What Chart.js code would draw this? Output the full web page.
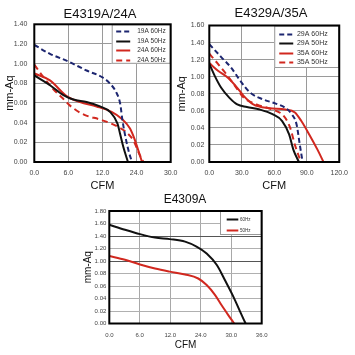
<!DOCTYPE html>
<html><head><meta charset="utf-8">
<script src="https://cdn.jsdelivr.net/npm/chart.js@4.4.1/dist/chart.umd.min.js"></script>
<style>
html,body{margin:0;padding:0;background:#fff;}
#wrap{position:relative;width:355px;height:355px;overflow:hidden;}
canvas{position:absolute;left:0;top:0;}
</style></head><body>
<div id="wrap">
<canvas id="c1" width="355" height="355"></canvas>
<canvas id="c2" width="355" height="355"></canvas>
<canvas id="c3" width="355" height="355"></canvas>
</div>
<script>
// ---------- DATA ----------
// Panel 1: E4319A/24A
const p1Title = "E4319A/24A";
const p1XTicks = ["0.0", "6.0", "12.0", "24.0", "30.0"];
const p1YTicks = ["0.00", "0.02", "0.04", "0.06", "0.08", "1.00", "1.20", "1.40"];
const p1Labels = ["19A 60Hz", "19A 50Hz", "24A 60Hz", "24A 50Hz"];
const p1_19A60_x = [0, 3.45, 7.6, 11.5, 15.0, 16.6, 18.0, 18.9, 19.4, 20.2, 20.9, 21.5];
const p1_19A60_y = [1.19, 1.10, 1.02, 0.93, 0.86, 0.80, 0.71, 0.59, 0.42, 0.22, 0.085, 0];
const p1_19A50_x = [0, 3.45, 6.4, 8.6, 11.5, 14.45, 16.65, 18.3, 18.85, 19.6, 20.6];
const p1_19A50_y = [0.88, 0.78, 0.68, 0.635, 0.61, 0.565, 0.51, 0.39, 0.29, 0.15, 0];
const p1_24A60_x = [0, 3.45, 7.1, 10.05, 13.7, 17.0, 19.2, 21.05, 22.15, 23.1, 23.7];
const p1_24A60_y = [0.90, 0.83, 0.67, 0.61, 0.565, 0.51, 0.44, 0.34, 0.22, 0.085, 0];
const p1_24A50_x = [0, 1.9, 4.2, 6.2, 8.2, 11.0, 14.6, 17.9, 20.3, 21.9, 23.0, 24.0];
const p1_24A50_y = [0.99, 0.87, 0.74, 0.65, 0.56, 0.48, 0.43, 0.37, 0.30, 0.21, 0.09, 0];

// Panel 2: E4329A/35A
const p2Title = "E4329A/35A";
const p2XTicks = ["0.0", "30.0", "60.0", "90.0", "120.0"];
const p2YTicks = ["0.00", "0.02", "0.04", "0.06", "0.08", "1.00", "1.20", "1.40", "1.60"];
const p2Labels = ["29A 60Hz", "29A 50Hz", "35A 60Hz", "35A 50Hz"];
const p2_29A60_x = [0, 11, 19.9, 28.7, 37.6, 49.5, 61.3, 70.2, 76.1, 80.6, 83.6, 86.2];
const p2_29A60_y = [1.38, 1.23, 1.11, 0.95, 0.815, 0.735, 0.685, 0.635, 0.56, 0.44, 0.20, 0];
const p2_29A50_x = [0, 5, 11, 18.4, 25.8, 34.7, 46.5, 58.4, 67.3, 73.8, 77.6, 82.8];
const p2_29A50_y = [1.15, 1.01, 0.87, 0.755, 0.675, 0.645, 0.615, 0.56, 0.48, 0.32, 0.145, 0];
const p2_35A60_x = [0, 8, 16.9, 25.8, 31.7, 40.6, 55.4, 70.2, 79.1, 85, 92.4, 99.9, 105.5];
const p2_35A60_y = [1.16, 1.07, 0.99, 0.87, 0.775, 0.675, 0.63, 0.615, 0.58, 0.48, 0.32, 0.145, 0];
const p2_35A50_x = [0, 8, 16.9, 25.8, 31.7, 43.6, 58.4, 68.7, 74.7, 79.1, 84.6];
const p2_35A50_y = [1.27, 1.15, 1.01, 0.855, 0.755, 0.675, 0.615, 0.54, 0.40, 0.20, 0];

// Panel 3: E4309A
const p3Title = "E4309A";
const p3XTicks = ["0.0", "6.0", "12.0", "24.0", "30.0", "36.0"];
const p3YTicks = ["0.00", "0.02", "0.04", "0.06", "0.08", "1.00", "1.20", "1.40", "1.60", "1.80"];
const p3Labels = ["60Hz", "50Hz"];
const p3_60_x = [0, 3.7, 7.25, 10.8, 14.3, 17.9, 20.6, 23, 25.4, 27.3, 29.3, 30.9, 32.2];
const p3_60_y = [1.58, 1.50, 1.43, 1.375, 1.35, 1.31, 1.23, 1.12, 0.935, 0.695, 0.43, 0.19, 0];
const p3_50_x = [0, 3.7, 7.25, 10.8, 14.3, 17.9, 21, 23, 25, 26.5, 28.1, 29.5];
const p3_50_y = [1.08, 1.02, 0.945, 0.88, 0.83, 0.785, 0.72, 0.615, 0.455, 0.295, 0.135, 0];

// ---------- STYLE / HELPERS ----------
const FONT = '"Liberation Sans", Arial, Helvetica, sans-serif';
const NAVY = '#1d2670', RED = '#d1281f', BLACK = '#111111';
const pts = (xs, ys) => xs.map((x, i) => ({x: x, y: ys[i]}));

const panelTitle = {
  id: 'panelTitle',
  afterDraw(chart, args, o) {
    const ctx = chart.ctx;
    ctx.save();
    ctx.font = o.size + 'px ' + FONT;
    ctx.fillStyle = '#111';
    ctx.textAlign = 'center';
    ctx.textBaseline = 'middle';
    ctx.fillText(o.text, o.x, o.y);
    ctx.restore();
  }
};

const boxLegend = {
  id: 'boxLegend',
  afterDatasetsDraw(chart, args, o) {
    const ctx = chart.ctx, a = chart.chartArea;
    const left = a.right - o.w, top = a.top;
    ctx.save();
    ctx.fillStyle = '#fff';
    ctx.fillRect(left, top, o.w, o.h);
    ctx.strokeStyle = '#999';
    ctx.lineWidth = 1;
    ctx.strokeRect(left + 0.5, top + 0.5, o.w - 1, o.h - 1);
    chart.data.datasets.forEach((ds, i) => {
      const y = Math.round(top + o.row0 + i * o.rowH) + 0.5;
      ctx.strokeStyle = ds.borderColor;
      ctx.lineWidth = ds.borderWidth;
      ctx.setLineDash(ds.borderDash || []);
      ctx.beginPath();
      ctx.moveTo(left + o.lx, y);
      ctx.lineTo(left + o.lx + o.len, y);
      ctx.stroke();
      ctx.setLineDash([]);
      ctx.fillStyle = '#333';
      ctx.font = o.fs + 'px ' + FONT;
      ctx.textAlign = 'left';
      ctx.textBaseline = 'middle';
      ctx.fillText(ds.label, left + o.tx, y);
    });
    // plot frame
    ctx.strokeStyle = '#000';
    ctx.lineWidth = 2;
    ctx.strokeRect(a.left, a.top, a.right - a.left, a.bottom - a.top);
    ctx.restore();
  }
};

function ds(label, data, color, dash) {
  return {
    label: label, data: data, borderColor: color, borderWidth: 2,
    borderDash: dash || [], pointRadius: 0, fill: false,
    cubicInterpolationMode: 'monotone', tension: 0.4
  };
}

function makeChart(id, p) {
  new Chart(document.getElementById(id), {
    type: 'line',
    data: {datasets: p.datasets},
    plugins: [panelTitle, boxLegend],
    options: {
      responsive: false, animation: false, events: [],
      layout: {padding: p.pad},
      plugins: {
        legend: {display: false}, tooltip: {enabled: false}, title: {display: false},
        panelTitle: p.title, boxLegend: p.legend
      },
      scales: {
        x: {
          type: 'linear', min: 0, max: p.xMax,
          afterFit: s => { s.height = p.xH; },
          grid: {color: p.gridColor || '#9a9a9a', lineWidth: 1, drawTicks: false},
          border: {display: false},
          ticks: {stepSize: p.xMax / (p.xTicks.length - 1), autoSkip: false, maxRotation: 0,
                  padding: p.xPad, color: '#444', font: {size: p.tickSize, family: FONT},
                  callback: (v, i) => p.xTicks[i]},
          title: {display: true, text: 'CFM', color: '#111', padding: 0,
                  font: {size: p.axisSize, family: FONT, lineHeight: 1.2}}
        },
        y: {
          type: 'linear', min: 0, max: p.yMax,
          afterFit: s => { s.width = p.yW; },
          grid: {color: p.yGridColor || p.gridColor || '#9a9a9a', lineWidth: 1, drawTicks: false},
          border: {display: false},
          ticks: {stepSize: 0.2, autoSkip: false, padding: p.yPad, color: '#444',
                  font: {size: p.tickSize, family: FONT},
                  callback: (v, i) => p.yTicks[i]},
          title: {display: true, text: 'mm-Aq', color: '#111', padding: 0,
                  font: {size: p.axisSize, family: FONT, lineHeight: 1.2}}
        }
      }
    }
  });
}

makeChart('c1', {
  datasets: [
    ds(p1Labels[0], pts(p1_19A60_x, p1_19A60_y), NAVY, [5, 3]),
    ds(p1Labels[1], pts(p1_19A50_x, p1_19A50_y), BLACK),
    ds(p1Labels[2], pts(p1_24A60_x, p1_24A60_y), RED),
    ds(p1Labels[3], pts(p1_24A50_x, p1_24A50_y), RED, [6, 4])
  ],
  xTicks: p1XTicks, yTicks: p1YTicks,
  xMax: 30, yMax: (p1YTicks.length - 1) * 0.2,
  pad: {left: 3.4, right: 184.3, top: 24.3, bottom: 162},
  yW: 30.9, xH: 31, xPad: 7, yPad: 7,
  tickSize: 7, axisSize: 11,
  title: {text: p1Title, x: 100, y: 14, size: 13},
  legend: {w: 59, h: 39.5, row0: 7, rowH: 9.4, lx: 4.5, len: 14, tx: 25.5, fs: 6.5}
});

makeChart('c2', {
  datasets: [
    ds(p2Labels[0], pts(p2_29A60_x, p2_29A60_y), NAVY, [5, 3]),
    ds(p2Labels[1], pts(p2_29A50_x, p2_29A50_y), BLACK),
    ds(p2Labels[2], pts(p2_35A60_x, p2_35A60_y), RED),
    ds(p2Labels[3], pts(p2_35A50_x, p2_35A50_y), RED, [6, 4])
  ],
  xTicks: p2XTicks, yTicks: p2YTicks,
  xMax: 120, yMax: (p2YTicks.length - 1) * 0.2,
  pad: {left: 175.4, right: 10.5, top: 25.5, bottom: 162},
  yW: 33.9, xH: 31, xPad: 7, yPad: 5,
  tickSize: 7, axisSize: 11,
  title: {text: p2Title, x: 271, y: 13.5, size: 13},
  legend: {w: 65, h: 42.5, row0: 8.3, rowH: 9.5, lx: 5, len: 14, tx: 22.7, fs: 7}
});

makeChart('c3', {
  datasets: [
    ds(p3Labels[0], pts(p3_60_x, p3_60_y), BLACK),
    ds(p3Labels[1], pts(p3_50_x, p3_50_y), RED)
  ],
  xTicks: p3XTicks, yTicks: p3YTicks,
  xMax: 36, yMax: (p3YTicks.length - 1) * 0.2,
  pad: {left: 82, right: 93.3, top: 211, bottom: 3.3},
  yW: 27.3, xH: 28.2, xPad: 7.9, yPad: 3,
  tickSize: 6, axisSize: 10,
  gridColor: '#a8a8a8',
  yGridColor: ctx => (ctx.index === 5 || ctx.index === 7) ? '#555' : '#b0b0b0',
  title: {text: p3Title, x: 185, y: 200, size: 12},
  legend: {w: 41.7, h: 24, row0: 8, rowH: 11, lx: 6.7, len: 11.6, tx: 20, fs: 4.5}
});
</script>
</body></html>
